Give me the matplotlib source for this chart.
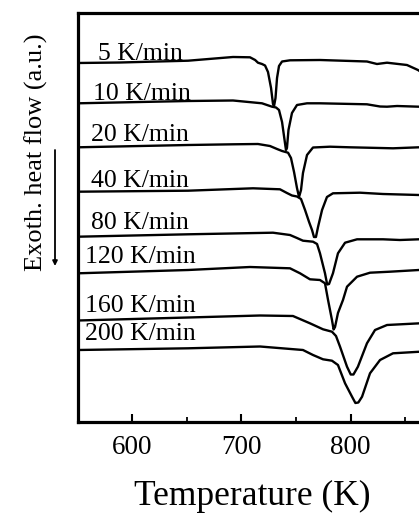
import numpy as np
import matplotlib
matplotlib.use('Agg')
import matplotlib.pyplot as plt

plt.rcParams['font.family'] = ['Liberation Serif', 'DejaVu Serif']

# DSC traces: temperature (K) and heat flow (a.u.)
rates = ['5 K/min', '10 K/min', '20 K/min', '40 K/min',
         '80 K/min', '120 K/min', '160 K/min', '200 K/min']

T_5 = [550, 588.5, 651, 692.2, 707.8, 712.5, 715.1, 718.8, 721.6, 724.3, 727.1, 728.9,
       729.8, 731.2, 732.6, 734.4, 737.2, 744.5, 772, 815.1, 824.3, 833.5, 851.8, 861.9, 867.4]
q_5 = [35.9, 35.95, 36.13, 36.5, 36.47, 36.2, 35.93, 35.8, 35.65, 35.0, 33.4, 31.8,
       31.55, 32.4, 34.4, 35.6, 36.05, 36.17, 36.2, 36.05, 35.8, 35.93, 35.7, 35.2, 34.8]

T_10 = [550, 651, 692.2, 718.8, 728, 731.7, 734.4, 737.2, 739.5, 740.8, 741.7, 743.1,
        746.3, 750.9, 760.1, 772, 815.1, 827.1, 833.5, 842.7, 862.8, 867.4]
q_10 = [31.87, 32.1, 32.15, 31.87, 31.53, 31.45, 31.2, 30.0, 28.2, 27.2, 27.4, 29.2,
        30.9, 31.7, 31.87, 31.87, 31.77, 31.55, 31.53, 31.6, 31.53, 31.5]

T_20 = [550, 651, 692.2, 715.1, 726.1, 732.6, 737.2, 742.7, 745.4, 748.2, 750.9, 752.8,
        754.6, 756.4, 760.1, 765.6, 781.2, 799.5, 839, 862.8, 867.4]
q_20 = [27.47, 27.7, 27.77, 27.8, 27.6, 27.3, 27.1, 26.93, 26.4, 25.0, 23.4, 22.5,
        23.2, 24.9, 26.7, 27.45, 27.53, 27.47, 27.37, 27.47, 27.47]

T_40 = [550, 651, 710.6, 735.3, 741.7, 746.3, 750.9, 754.6, 758.3, 762.0, 764.7, 766.5,
        768.3, 770.2, 773.9, 778.4, 783.9, 808.7, 829.8, 862.8, 867.4]
q_40 = [23.03, 23.13, 23.37, 23.27, 22.9, 22.65, 22.55, 22.3, 21.2, 20.0, 19.2, 18.5,
        18.5, 19.5, 21.2, 22.5, 22.87, 22.93, 22.8, 22.7, 22.7]

T_80 = [550, 651, 728.9, 744.5, 750.9, 756.4, 765.6, 769.3, 772, 776.6, 778.6, 780.3,
        783.9, 788.5, 795, 806, 829.8, 845.4, 862.8, 867.4]
q_80 = [18.53, 18.77, 18.93, 18.7, 18.4, 18.13, 18.03, 17.8, 16.87, 14.87, 13.75, 13.8,
        14.87, 16.87, 17.93, 18.27, 18.27, 18.2, 18.27, 18.27]

T_120 = [550, 651, 707.8, 744.5, 753.7, 762.8, 772, 776.6, 779.4, 783, 784.5, 785.8,
         788.5, 793.1, 796.8, 806, 817.9, 836.2, 862.8, 867.4]
q_120 = [14.87, 15.2, 15.5, 15.37, 14.87, 14.27, 14.2, 13.87, 12.2, 10.2, 9.25, 9.5,
         10.9, 12.2, 13.53, 14.53, 14.93, 15.03, 15.2, 15.2]

T_160 = [550, 651, 717, 747.2, 762.8, 774.8, 783, 786.7, 790.4, 796.8, 800.2, 802.7,
         806.8, 815.1, 822.5, 833.5, 863.8, 867.4]
q_160 = [10.15, 10.45, 10.65, 10.6, 9.87, 9.27, 9.03, 8.6, 7.53, 5.53, 4.75, 4.75,
         5.53, 7.87, 9.2, 9.7, 9.87, 9.87]

T_200 = [550, 651, 717, 756.4, 765.6, 774.8, 783, 788.5, 795, 801.4, 804.5, 807.2,
         810.6, 817.9, 827.1, 839, 863.8, 867.4]
q_200 = [7.2, 7.37, 7.55, 7.2, 6.7, 6.27, 6.13, 5.7, 3.87, 2.53, 1.9, 1.95,
         2.53, 4.87, 6.2, 6.87, 7.03, 7.03]

temps = [T_5, T_10, T_20, T_40, T_80, T_120, T_160, T_200]
flows = [q_5, q_10, q_20, q_40, q_80, q_120, q_160, q_200]

W, H = 419, 516
fig = plt.figure(figsize=(W / 100, H / 100), dpi=100)
# axes run past the right edge of the figure, as in the cropped original
ax = fig.add_axes([78 / W, 1 - 422 / H, 381.5 / W, 409 / H])

for T, q in zip(temps, flows):
    ax.plot(T, q, color='black', lw=1.7, solid_joinstyle='round', solid_capstyle='round')

# rate labels sit just above the start of each trace
label_x = [568, 563.5, 562, 562, 562, 556.5, 556.5, 556.5]
label_gap = [0.25, 0.33, 0.63, 0.5, 0.74, 1.06, 0.83, 1.0]
for name, q, lx, gap in zip(rates, flows, label_x, label_gap):
    ax.text(lx, q[0] + gap, name, fontsize=18.5, va='baseline', ha='left')

ax.set_xlim(550, 900)
ax.set_ylim(0, 40.9)
ax.set_xticks([600, 700, 800])
ax.set_xticks([650, 750, 850], minor=True)
ax.set_yticks([])
ax.tick_params(axis='x', which='major', direction='in', length=6, width=1.5,
               labelsize=19.5, pad=9)
ax.tick_params(axis='x', which='minor', direction='in', length=3.5, width=1.3)
for s in ax.spines.values():
    s.set_linewidth(2.3)

ax.set_xlabel('Temperature (K)', fontsize=25.5)
ax.xaxis.set_label_coords((252 - 78) / 381.5, -(505 - 422) / 409)
ax.xaxis.label.set_va('baseline')
ax.set_ylabel('Exoth. heat flow (a.u.)', fontsize=19)
ax.yaxis.set_label_coords(-0.078, 0.66)

ax.annotate('', xy=(55 / W, 1 - 266 / H), xytext=(55 / W, 1 - 150 / H),
            xycoords='figure fraction', textcoords='figure fraction',
            arrowprops=dict(arrowstyle='-|>', lw=1.3, color='black', mutation_scale=7,
                            shrinkA=0, shrinkB=0),
            annotation_clip=False)

fig.savefig('out.png', dpi=100)
